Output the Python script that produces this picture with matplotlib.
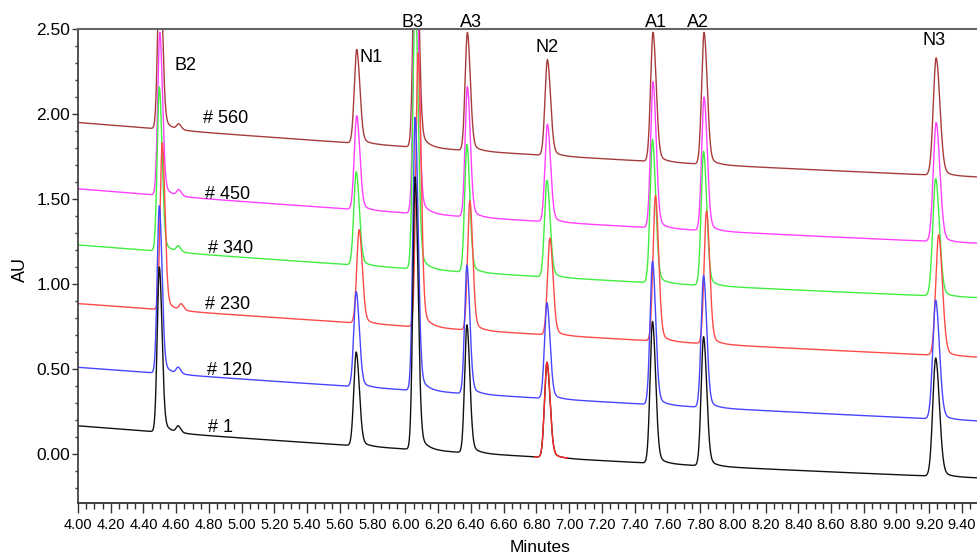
import numpy as np
import matplotlib.pyplot as plt
from matplotlib.ticker import MultipleLocator, FormatStrFormatter

plt.rcParams['font.family'] = ['Liberation Sans', 'DejaVu Sans']

samples = ['# 1', '# 120', '# 230', '# 340', '# 450', '# 560']
colors = ['#111111', '#4646ff', '#ff4a4a', '#40ee40', '#ff40ff', '#a83c3c']

# peaks: B2, small bump after B2, N1, B3, A3, N2, A1, A2, N3
peak_names = ['B2', '', 'N1', 'B3', 'A3', 'N2', 'A1', 'A2', 'N3']
peak_times = [4.497, 4.612, 5.700, 6.060, 6.376, 6.865, 7.510, 7.822, 9.240]
peak_sigma = [0.013, 0.012, 0.015, 0.014, 0.014, 0.015, 0.015, 0.015, 0.018]
time_shift = [0.0, 0.0, 0.018, 0.0, 0.003, 0.003]

# apex values (AU)
apex_1 = [1.10, 0.159, 0.60, 1.63, 0.76, 0.54, 0.78, 0.69, 0.565]
apex_120 = [1.46, 0.504, 0.955, 1.98, 1.11, 0.89, 1.135, 1.05, 0.905]
apex_230 = [1.83, 0.877, 1.32, 2.36, 1.49, 1.27, 1.52, 1.43, 1.29]
apex_340 = [2.16, 1.218, 1.66, 2.72, 1.82, 1.61, 1.85, 1.78, 1.62]
apex_450 = [2.48, 1.549, 1.99, 3.03, 2.16, 1.94, 2.19, 2.10, 1.95]
apex_560 = [2.90, 1.935, 2.38, 3.40, 2.48, 2.32, 2.48, 2.48, 2.33]
apexes = [apex_1, apex_120, apex_230, apex_340, apex_450, apex_560]

# baseline level at 4.00, 6.80 and 9.49 min
base_times = [4.00, 6.80, 9.49]
base_1 = [0.166, -0.017, -0.140]
base_120 = [0.510, 0.330, 0.195]
base_230 = [0.885, 0.705, 0.570]
base_340 = [1.230, 1.045, 0.920]
base_450 = [1.560, 1.370, 1.240]
base_560 = [1.950, 1.760, 1.630]
bases = [base_1, base_120, base_230, base_340, base_450, base_560]

# label positions
peak_label_x = [4.59, None, 5.717, 6.046, 6.40, 6.865, 7.53, 7.79, 9.23]
peak_label_y = [2.285, None, 2.335, 2.54, 2.54, 2.39, 2.54, 2.54, 2.435]
sample_label_x = [4.794, 4.788, 4.776, 4.794, 4.776, 4.764]
sample_label_y = [0.156, 0.494, 0.882, 1.206, 1.524, 1.976]

# black trace N2 peak drawn in red
hilite_start, hilite_end = 6.79, 6.99


def peak_shape(t, t0, s):
    dt = t - t0
    left = np.exp(-0.5 * (dt / s) ** 2)
    right = 0.9 * np.exp(-0.5 * (dt / (1.25 * s)) ** 2) + 0.1 * np.exp(-np.clip(dt, 0, None) / 0.045)
    return np.where(dt < 0, left, right)


t = np.arange(4.0, 9.5, 0.0005)

fig = plt.figure(figsize=(9.77, 5.55), dpi=100)
ax = fig.add_axes([78 / 977, 52 / 555, 899 / 977, 474 / 555])

traces = []
for i in range(len(samples)):
    coef = np.polyfit(base_times, bases[i], 2)
    y = np.polyval(coef, t)
    for t0, s, a in zip(peak_times, peak_sigma, apexes[i]):
        t0 = t0 + time_shift[i]
        h = a - np.polyval(coef, t0)
        y = y + h * peak_shape(t, t0, s)
    traces.append(y)

for i in reversed(range(len(samples))):
    ax.plot(t, traces[i], color=colors[i], lw=1.0)

mask = (t >= hilite_start) & (t <= hilite_end)
ax.plot(t[mask], traces[0][mask], color='#ff2a2a', lw=1.0)

for name, x, y in zip(peak_names, peak_label_x, peak_label_y):
    if name:
        ha = 'left' if name in ('B2', 'N1') else 'center'
        ax.text(x, y, name, fontsize=13, ha=ha, va='center', clip_on=False)

for name, x, y in zip(samples, sample_label_x, sample_label_y):
    ax.text(x, y, name, fontsize=13, ha='left', va='center')

ax.set_xlim(4.0, 9.492)
ax.set_ylim(-0.288, 2.50)

ax.xaxis.set_major_locator(MultipleLocator(0.2))
ax.xaxis.set_minor_locator(MultipleLocator(0.05))
ax.yaxis.set_major_locator(MultipleLocator(0.5))
ax.yaxis.set_minor_locator(MultipleLocator(0.1))
ax.xaxis.set_major_formatter(FormatStrFormatter('%.2f'))
ax.yaxis.set_major_formatter(FormatStrFormatter('%.2f'))

ax.tick_params(axis='x', which='major', direction='out', length=7.5, width=1, pad=3,
               labelsize=10.5, color='#333333')
ax.tick_params(axis='x', which='minor', direction='out', length=4.5, width=1, color='#333333')
ax.tick_params(axis='y', which='major', direction='out', length=4.5, width=1, pad=1,
               labelsize=12.5, color='#333333')
ax.tick_params(axis='y', which='minor', direction='out', length=2.5, width=1, color='#333333')

ax.spines['right'].set_visible(False)
ax.spines['top'].set_color('#666666')
ax.spines['top'].set_linewidth(1.5)
ax.spines['left'].set_color('#444444')
ax.spines['left'].set_linewidth(1.3)
ax.spines['bottom'].set_color('#333333')
ax.spines['bottom'].set_linewidth(1.3)

fig.text(540 / 977, 1 - 548 / 555, 'Minutes', fontsize=12.5, ha='center', va='center')
fig.text(20 / 977, 1 - 270 / 555, 'AU', fontsize=13, ha='center', va='center', rotation=90)

fig.savefig('out.png', dpi=100)
